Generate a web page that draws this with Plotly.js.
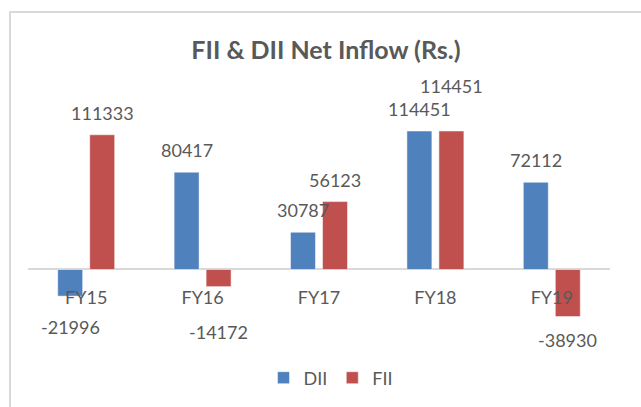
<!DOCTYPE html>
<html>
<head>
<meta charset="utf-8">
<script src="https://cdn.plot.ly/plotly-3.0.1.min.js"></script>
<style>
  html, body { margin: 0; padding: 0; background: #ffffff; }
  #wrap { position: relative; width: 641px; height: 407px; overflow: hidden; }
  #chart { position: absolute; left: 0; top: 0; width: 641px; height: 407px; }
  #frame { position: absolute; left: 9px; top: 11px; width: 660px; height: 420px;
           border-left: 2px solid #d9d9d9; border-top: 2px solid #d9d9d9; pointer-events: none; }
</style>
</head>
<body>
<div id="wrap">
  <div id="chart"></div>
  <div id="frame"></div>
</div>
<script>
// ---- data ----
const categories = ["FY15", "FY16", "FY17", "FY18", "FY19"];
const diiValues = [-21996, 80417, 30787, 114451, 72112];
const fiiValues = [111333, -14172, 56123, 114451, -38930];
const seriesNames = ["DII", "FII"];
const chartTitle = "FII & DII Net Inflow (Rs.)";

// ---- styling ----
const colors = ["#4f81bd", "#c0504d"];
const textColor = "#595959";
const fontFamily = "Lato, 'Open Sans', sans-serif";
const yMin = -62400, yMax = 156600;
// vertical offsets (px) of the value labels from the bar ends
const diiLabelShift = [-31, 22, 22, 22, 22];
const fiiLabelShift = [22, -45, 22, 45, -23];
const barOffsetPx = 16;

const traces = [
  { type: "bar", name: seriesNames[0], x: categories, y: diiValues,
    marker: { color: colors[0], line: { color: "#ffffff", width: 0.5 } }, hoverinfo: "x+y" },
  { type: "bar", name: seriesNames[1], x: categories, y: fiiValues,
    marker: { color: colors[1], line: { color: "#ffffff", width: 0.5 } }, hoverinfo: "x+y" }
];

const annotations = [];
function addLabels(values, shifts, xs) {
  values.forEach((v, i) => {
    annotations.push({
      x: categories[i], y: v, xref: "x", yref: "y",
      text: String(v), showarrow: false,
      xshift: xs, yshift: shifts[i], yanchor: "middle", xanchor: "center",
      font: { family: fontFamily, size: 18, color: textColor }
    });
  });
}
addLabels(diiValues, diiLabelShift, -barOffsetPx);
addLabels(fiiValues, fiiLabelShift, barOffsetPx);

const layout = {
  width: 641, height: 407,
  paper_bgcolor: "#ffffff", plot_bgcolor: "#ffffff",
  margin: { l: 28, r: 31, t: 80, b: 62 },
  font: { family: fontFamily, color: textColor, size: 18 },
  title: {
    text: chartTitle,
    font: { family: fontFamily, size: 25, color: textColor, weight: "bold" },
    x: 326 / 641, xanchor: "center", xref: "container",
    y: 1 - 50 / 407, yanchor: "middle", yref: "container"
  },
  barmode: "group", bargap: 0.45, bargroupgap: 0.22,
  xaxis: {
    type: "category", showgrid: false, showline: false, zeroline: false,
    ticks: "", anchor: "free",
    position: -yMin / (yMax - yMin),
    ticklabelstandoff: 16,
    tickfont: { family: fontFamily, size: 18, color: textColor },
    layer: "above traces"
  },
  yaxis: {
    range: [yMin, yMax], showgrid: false, showticklabels: false, ticks: "",
    showline: false, zeroline: true, zerolinecolor: "#d9d9d9", zerolinewidth: 2
  },
  legend: {
    orientation: "h", xref: "container", yref: "container",
    x: 331 / 641, xanchor: "center", y: 1 - 378 / 407, yanchor: "middle",
    font: { family: fontFamily, size: 18, color: textColor },
    itemwidth: 30, traceorder: "normal"
  },
  showlegend: true,
  annotations: annotations
};

Plotly.newPlot("chart", traces, layout, { staticPlot: true, displayModeBar: false });
</script>
</body>
</html>
